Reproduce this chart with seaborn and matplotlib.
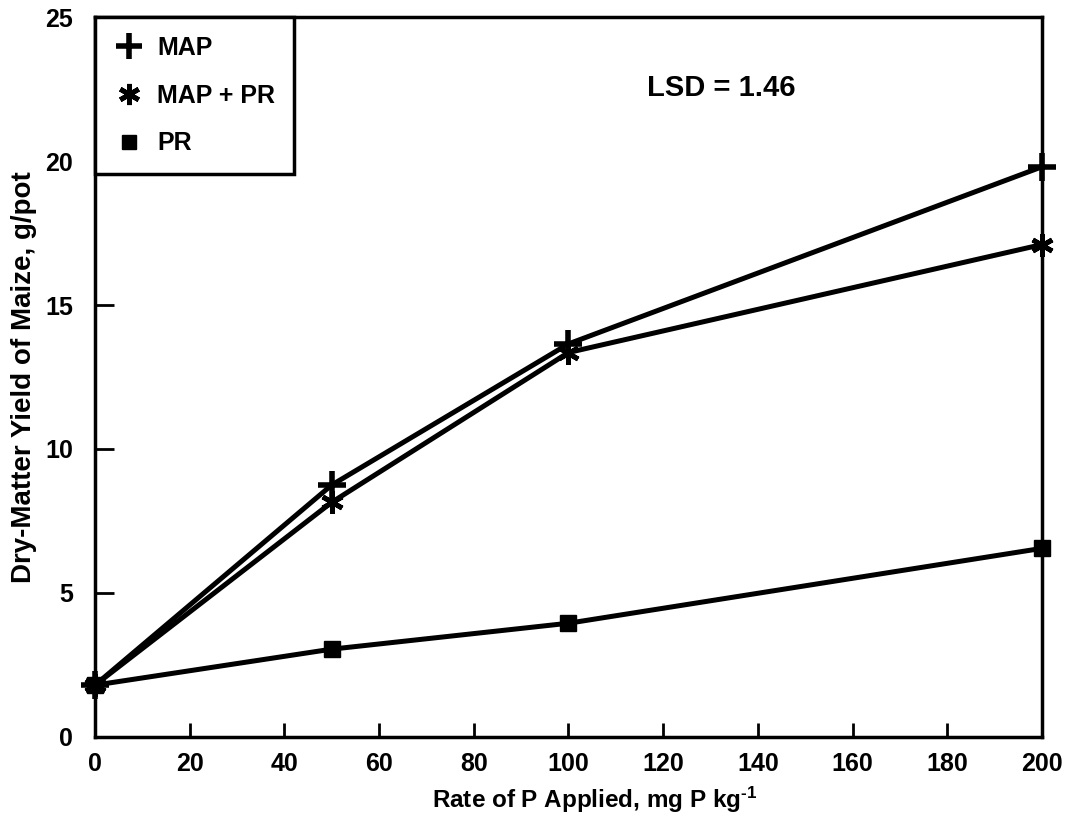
import matplotlib
matplotlib.use("Agg")
import matplotlib.pyplot as plt
import seaborn as sns
import pandas as pd

# Data
rates = [0, 50, 100, 200]
map_yield = [1.8, 8.75, 13.65, 19.8]
map_pr_yield = [1.8, 8.15, 13.35, 17.1]
pr_yield = [1.8, 3.05, 3.95, 6.55]
series_names = ["MAP", "MAP + PR", "PR"]
x_ticks = [0, 20, 40, 60, 80, 100, 120, 140, 160, 180, 200]
y_ticks = [0, 5, 10, 15, 20, 25]

sns.set_theme(style="white")
plt.rcParams['font.family'] = ['Liberation Sans', 'DejaVu Sans']
plt.rcParams['font.weight'] = 'bold'
plt.rcParams['text.color'] = 'black'
plt.rcParams['axes.labelcolor'] = 'black'
plt.rcParams['mathtext.fontset'] = 'custom'
plt.rcParams['mathtext.rm'] = 'Liberation Sans:bold'
plt.rcParams['mathtext.bf'] = 'Liberation Sans:bold'
plt.rcParams['mathtext.default'] = 'bf'

df = pd.DataFrame({
    "rate": rates * 3,
    "yield": map_yield + map_pr_yield + pr_yield,
    "series": [s for s in series_names for _ in rates],
})

fig = plt.figure(figsize=(10.72, 8.39), dpi=100)
ax = fig.add_axes([0.0886, 0.1216, 0.972 - 0.0886, 0.9797 - 0.1216])

markers = {"MAP": "+", "MAP + PR": (6, 2, 0), "PR": "s"}
msizes = {"MAP": 20, "MAP + PR": 16, "PR": 11}
mews = {"MAP": 4, "MAP + PR": 3.5, "PR": 1}
zorders = {"MAP": 3, "MAP + PR": 4, "PR": 2}

for name in series_names:
    sub = df[df["series"] == name]
    sns.lineplot(data=sub, x="rate", y="yield", ax=ax, color="black",
                 linewidth=3.6, marker=markers[name], markersize=msizes[name],
                 markeredgewidth=mews[name], markeredgecolor="black",
                 markerfacecolor="black", label=name, clip_on=False,
                 zorder=zorders[name])

ax.set_xlim(0, 200)
ax.set_ylim(0, 25)
ax.set_xticks(x_ticks)
ax.set_yticks(y_ticks)
ax.tick_params(axis="x", direction="in", length=10, width=2, pad=11,
               labelsize=18, colors="black", bottom=True, top=False)
ax.tick_params(axis="y", direction="in", length=14, width=2, pad=16,
               labelsize=18, colors="black", left=True, right=False)
for lab in ax.get_xticklabels() + ax.get_yticklabels():
    lab.set_fontweight("bold")

for sp in ax.spines.values():
    sp.set_visible(True)
    sp.set_color("black")
    sp.set_linewidth(2.5)

ax.set_xlabel(r"Rate of P Applied, mg P kg$^{\text{-1}}$", fontsize=17.5,
              fontweight="bold", color="black")
ax.xaxis.set_label_coords(0.528, -0.066)
ax.set_ylabel("Dry-Matter Yield of Maize, g/pot", fontsize=20,
              fontweight="bold", labelpad=6, color="black")

ax.text(0.661, 0.901, "LSD = 1.46", transform=ax.transAxes, fontsize=21,
        fontweight="bold", ha="center", va="center", color="black")

leg = ax.legend(loc="upper left", borderaxespad=0, frameon=True,
                fancybox=False, edgecolor="black", framealpha=1,
                fontsize=18, handlelength=1.2, handletextpad=0.55,
                labelspacing=0.95, borderpad=0.75, markerscale=0.95)
leg.get_frame().set_linewidth(2.5)
for h in leg.get_lines():
    h.set_linestyle("none")
for t in leg.get_texts():
    t.set_fontweight("bold")
    t.set_color("black")

fig.savefig("out.png", dpi=100, facecolor="white")
